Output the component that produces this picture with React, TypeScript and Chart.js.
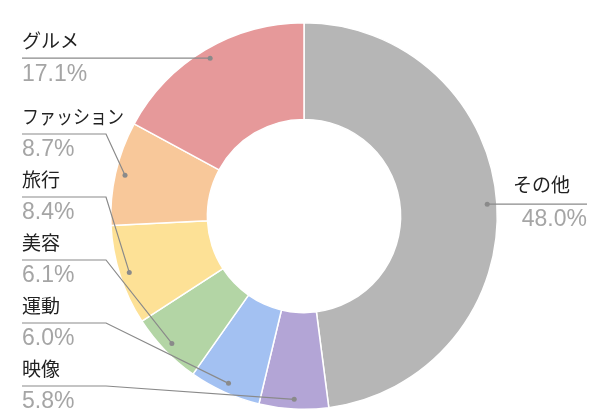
import React, { useEffect, useRef } from "react";
import { Chart, registerables } from "chart.js";

Chart.register(...registerables);

const categories = ["その他", "映像", "運動", "美容", "旅行", "ファッション", "グルメ"];
const values = [48.0, 5.8, 6.0, 6.1, 8.4, 8.7, 17.1];
const colors = ["#b6b6b6", "#b3a5d6", "#a3c1f2", "#b3d5a5", "#fde196", "#f8c89a", "#e6999a"];

const labelPlugin = {
  id: "leaderLabels",
  afterDraw(chart: any) {
    const ctx = chart.ctx;
    const meta = chart.getDatasetMeta(0);
    const pts: any[] = [];
    meta.data.forEach((arc: any, i: number) => {
      const p = arc.getProps(["x", "y", "startAngle", "endAngle", "outerRadius"], true);
      const mid = (p.startAngle + p.endAngle) / 2;
      const r = p.outerRadius * 0.95;
      pts.push({
        i,
        px: p.x + Math.cos(mid) * r,
        py: p.y + Math.sin(mid) * r,
        left: Math.cos(mid) < 0,
      });
    });
    const leftPts = pts.filter((p) => p.left).sort((a, b) => b.py - a.py);
    const spacing = 63;
    let limit = chart.height - 32;
    leftPts.forEach((p) => {
      p.ly = Math.min(p.py, limit);
      limit = p.ly - spacing;
    });
    pts.filter((p) => !p.left).forEach((p) => (p.ly = p.py));

    const nameFont = '19px "Noto Sans CJK JP", sans-serif';
    const pctFont = '23px "Liberation Sans", Arial, sans-serif';
    ctx.save();
    pts.forEach((p) => {
      ctx.strokeStyle = "#8a8a8a";
      ctx.lineWidth = 1.2;
      ctx.beginPath();
      if (p.left) {
        const x0 = 22;
        const elbow = 106;
        ctx.moveTo(x0, p.ly);
        if (p.px > elbow && Math.abs(p.py - p.ly) > 0.5) {
          ctx.lineTo(elbow, p.ly);
        }
        ctx.lineTo(p.px, p.py);
        ctx.stroke();
        ctx.fillStyle = "#8a8a8a";
        ctx.beginPath();
        ctx.arc(p.px, p.py, 2.5, 0, Math.PI * 2);
        ctx.fill();
        ctx.textAlign = "left";
        ctx.textBaseline = "middle";
        ctx.fillStyle = "#222222";
        ctx.font = nameFont;
        ctx.fillText(categories[p.i], x0, p.ly - 17, 102);
        ctx.fillStyle = "#a5a5a5";
        ctx.font = pctFont;
        ctx.fillText(values[p.i].toFixed(1) + "%", x0, p.ly + 16);
      } else {
        const x1 = 587;
        ctx.moveTo(p.px, p.ly);
        ctx.lineTo(x1, p.ly);
        ctx.stroke();
        ctx.fillStyle = "#8a8a8a";
        ctx.beginPath();
        ctx.arc(p.px, p.py, 2.5, 0, Math.PI * 2);
        ctx.fill();
        ctx.textAlign = "right";
        ctx.textBaseline = "middle";
        ctx.fillStyle = "#222222";
        ctx.font = nameFont;
        ctx.fillText(categories[p.i], x1 - 17, p.ly - 19);
        ctx.fillStyle = "#a5a5a5";
        ctx.font = pctFont;
        ctx.fillText(values[p.i].toFixed(1) + "%", x1, p.ly + 15);
      }
    });
    ctx.restore();
  },
};

export default function App() {
  const ref = useRef<HTMLCanvasElement>(null);
  useEffect(() => {
    document.body.style.margin = "0";
    const chart = new Chart(ref.current!, {
      type: "doughnut",
      data: {
        labels: categories,
        datasets: [
          {
            data: values,
            backgroundColor: colors,
            borderColor: "#ffffff",
            borderWidth: 1.5,
          },
        ],
      },
      options: {
        responsive: false,
        animation: false,
        cutout: "50%",
        layout: { padding: { left: 110, right: 115, top: 22, bottom: 8 } },
        plugins: {
          legend: { display: false },
          tooltip: { enabled: false },
        },
        events: [],
      },
      plugins: [labelPlugin],
    });
    return () => chart.destroy();
  }, []);
  return (
    <div style={{ position: "absolute", left: 0, top: 0, width: 613, height: 418, background: "#fff" }}>
      <canvas ref={ref} width={613} height={418} />
    </div>
  );
}
